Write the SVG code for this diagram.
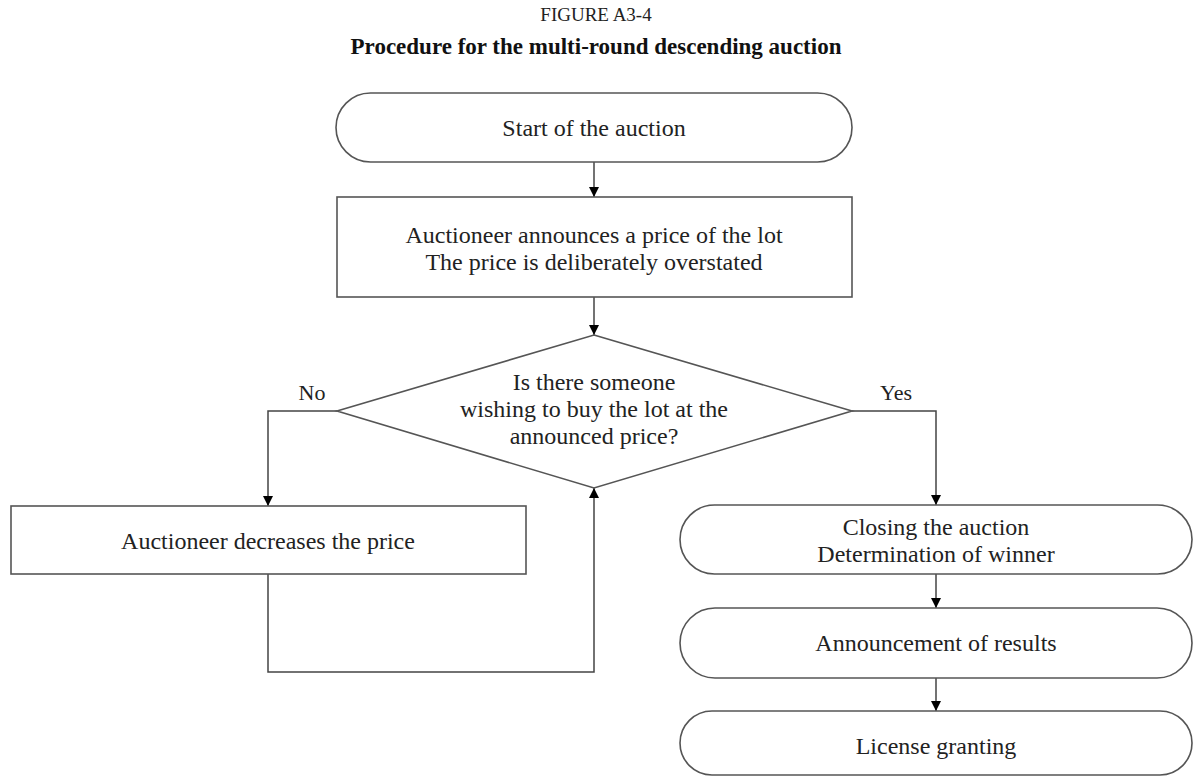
<svg xmlns="http://www.w3.org/2000/svg" width="1194" height="776" viewBox="0 0 1194 776">
<defs>
<marker id="arr" viewBox="0 0 10 10" refX="10" refY="5" markerWidth="10" markerHeight="10" markerUnits="userSpaceOnUse" orient="auto">
<path d="M0,0 L10,5 L0,10 Z" fill="#000"/>
</marker>
<style>
.shape{fill:#fff;stroke:#555;stroke-width:1.6}
.t{font-family:"Liberation Serif","Times New Roman",serif;font-size:24px;fill:#222;text-anchor:middle}
.conn{fill:none;stroke:#444;stroke-width:1.5;marker-end:url(#arr)}
</style>
</defs>
<rect width="1194" height="776" fill="#fff"/>
<g id="title">
<text class="t" x="596" y="21" style="font-size:19px">FIGURE A3-4</text>
<text class="t" x="596" y="54" style="font-size:23px;font-weight:bold;fill:#111">Procedure for the multi-round descending auction</text>
</g>
<g id="connectors">
<path class="conn" d="M594,162 V197"/>
<path class="conn" d="M594,297 V335"/>
<path class="conn" d="M337,411 H268 V506"/>
<path class="conn" d="M852,411 H936 V505"/>
<path class="conn" d="M268,574 V672 H594 V488"/>
<path class="conn" d="M936,574 V608"/>
<path class="conn" d="M936,678 V711"/>
<text class="t" x="312" y="400" style="font-size:22px">No</text>
<text class="t" x="896" y="400" style="font-size:22px">Yes</text>
</g>
<g id="start">
<rect class="shape" x="336" y="93" width="516" height="69" rx="34.5"/>
<text class="t" x="594" y="136">Start of the auction</text>
</g>
<g id="announce">
<rect class="shape" x="337" y="197" width="515" height="100"/>
<text class="t" x="594" y="243">Auctioneer announces a price of the lot</text>
<text class="t" x="594" y="270">The price is deliberately overstated</text>
</g>
<g id="decision">
<polygon class="shape" points="594,335 852,411 594,488 337,411"/>
<text class="t" x="594" y="390">Is there someone</text>
<text class="t" x="594" y="417">wishing to buy the lot at the</text>
<text class="t" x="594" y="444">announced price?</text>
</g>
<g id="decrease">
<rect class="shape" x="11" y="506" width="515" height="68"/>
<text class="t" x="268" y="549">Auctioneer decreases the price</text>
</g>
<g id="closing">
<rect class="shape" x="680" y="505" width="512" height="69" rx="34.5"/>
<text class="t" x="936" y="535">Closing the auction</text>
<text class="t" x="936" y="562">Determination of winner</text>
</g>
<g id="results">
<rect class="shape" x="680" y="608" width="512" height="70" rx="35"/>
<text class="t" x="936" y="651">Announcement of results</text>
</g>
<g id="license">
<rect class="shape" x="680" y="711" width="512" height="64" rx="32"/>
<text class="t" x="936" y="754">License granting</text>
</g>
</svg>
